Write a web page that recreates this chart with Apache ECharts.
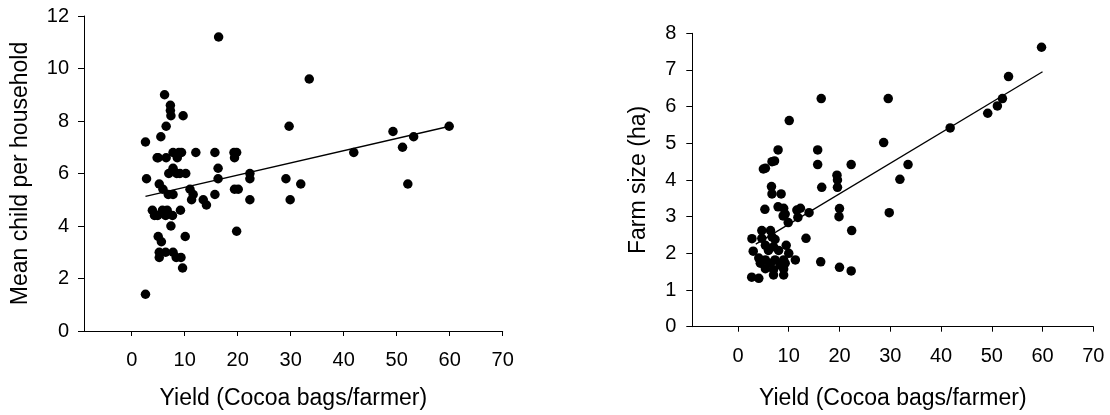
<!DOCTYPE html>
<html>
<head>
<meta charset="utf-8">
<script src="https://cdn.jsdelivr.net/npm/echarts@6/dist/echarts.min.js"></script>
<style>
html,body{margin:0;padding:0;background:#fff;}
#chart{width:1110px;height:415px;}
</style>
</head>
<body>
<div id="chart"></div>
<script>
// ---- Data ----
var xTicks = [0, 10, 20, 30, 40, 50, 60, 70];
var leftYTicksMax = 12;
var rightYTicksMax = 8;

var xTitle = 'Yield (Cocoa bags/farmer)';
var leftYTitle = 'Mean child per household';
var rightYTitle = 'Farm size (ha)';

// Left panel: yield vs mean child per household
var leftYield = [
  2.6, 2.6, 2.8, 3.9, 4.3, 4.9, 5.5, 5.0, 6.5, 5.2,
  5.9, 6.9, 7.8, 5.8, 6.7, 6.4, 7.7, 7.4, 9.2, 5.0,
  5.6, 5.2, 5.2, 6.4, 7.8, 8.4, 9.3, 9.6, 10.1, 6.2,
  7.3, 7.3, 7.4, 9.7, 6.5, 7.8, 8.9, 9.4, 8.6, 7.8,
  7.0, 9.1, 10.2, 12.1, 11.0, 11.6, 11.3, 13.5, 14.1, 15.7,
  15.7, 16.3, 16.3, 16.4, 19.3, 19.8, 19.4, 19.4, 20.1, 19.8,
  22.3, 22.3, 22.3, 29.7, 29.1, 29.9, 31.9, 33.5, 41.9, 49.3,
  51.1, 52.1, 53.2, 59.9, 4.8, 8.5
];
var leftChild = [
  1.4, 7.2, 5.8, 4.6, 4.4, 4.4, 7.4, 6.6, 6.6, 5.6,
  5.4, 5.2, 5.2, 4.6, 4.6, 4.4, 4.4, 4.0, 4.6, 3.6,
  3.4, 3.0, 2.8, 3.0, 3.0, 2.8, 2.8, 2.4, 3.6, 9.0,
  8.6, 8.4, 8.2, 8.2, 7.8, 6.8, 6.8, 6.8, 6.6, 6.2,
  6.0, 6.0, 6.0, 6.8, 5.4, 5.2, 5.0, 5.0, 4.8, 5.2,
  6.8, 6.2, 5.8, 11.2, 6.8, 6.8, 6.6, 5.4, 5.4, 3.8,
  6.0, 5.8, 5.0, 7.8, 5.8, 5.0, 5.6, 9.6, 6.8, 7.6,
  7.0, 5.6, 7.4, 7.8, 6.6, 6.0
];
var leftFitX = [2.6, 60];
var leftFitY = [5.13, 7.8];

// Right panel: yield vs farm size (ha)
var rightYield = [
  2.75, 3.0, 2.7, 4.1, 5.3, 5.4, 5.0, 6.7, 7.2, 7.9,
  10.1, 6.6, 6.7, 8.5, 7.9, 9.0, 9.3, 8.9, 11.6, 12.3,
  11.8, 14.0, 9.9, 4.7, 6.4, 4.7, 6.7, 7.3, 5.4, 6.0,
  7.0, 8.0, 9.5, 10.0, 4.1, 4.4, 5.4, 6.4, 7.3, 8.3,
  9.0, 9.3, 11.3, 5.4, 7.0, 9.0, 7.0, 9.0, 13.4, 15.7,
  15.7, 16.4, 16.5, 16.3, 19.5, 19.6, 19.6, 20.0, 19.9, 20.0,
  22.3, 22.4, 22.3, 28.7, 29.6, 29.8, 31.9, 33.5, 41.8, 49.2,
  51.1, 52.1, 53.3, 59.8
];
var rightSize = [
  2.4, 2.06, 1.35, 1.32, 3.2, 4.32, 4.3, 4.5, 4.52, 4.82,
  5.62, 3.82, 3.62, 3.62, 3.27, 3.23, 3.07, 3.02, 3.18, 3.23,
  2.98, 3.11, 2.84, 2.62, 2.62, 2.41, 2.45, 2.38, 2.22, 2.08,
  2.18, 2.08, 2.22, 2.0, 1.87, 1.73, 1.82, 1.73, 1.82, 1.68,
  1.82, 1.73, 1.82, 1.58, 1.55, 1.57, 1.41, 1.41, 2.41, 4.82,
  4.42, 6.22, 3.8, 1.77, 4.13, 4.0, 3.8, 3.22, 3.0, 1.62,
  4.42, 2.62, 1.52, 5.02, 6.22, 3.11, 4.02, 4.42, 5.42, 5.82,
  6.02, 6.22, 6.82, 7.62
];
var rightFitX = [3.5, 60];
var rightFitY = [2.25, 6.95];

// ---- Build chart ----
function pairs(xs, ys) { return xs.map(function (x, i) { return [x, ys[i]]; }); }

var FONT = 'Liberation Sans, Arial, sans-serif';
var tickFont = 20;
var titleFont = 23;

function makeX(gridIndex, nameGap, margin) {
  return {
    type: 'value', gridIndex: gridIndex, min: -9, max: 70,
    name: xTitle, nameLocation: 'middle', nameGap: nameGap,
    nameTextStyle: { fontFamily: FONT, fontSize: titleFont, color: '#000' },
    axisLine: { onZero: false, lineStyle: { color: '#000', width: 1 } },
    axisTick: { show: true, length: 5, customValues: xTicks, lineStyle: { color: '#000' } },
    axisLabel: { customValues: xTicks, margin: margin, fontFamily: FONT, fontSize: tickFont, color: '#000' },
    splitLine: { show: false }
  };
}
function makeY(gridIndex, max, interval, name, nameGap, margin) {
  return {
    type: 'value', gridIndex: gridIndex, min: 0, max: max, interval: interval,
    name: name, nameLocation: 'middle', nameGap: nameGap,
    nameTextStyle: { fontFamily: FONT, fontSize: titleFont, color: '#000' },
    axisLine: { show: true, onZero: false, lineStyle: { color: '#000', width: 1 } },
    axisTick: { show: true, length: 6, lineStyle: { color: '#000' } },
    axisLabel: { margin: margin, fontFamily: FONT, fontSize: tickFont, color: '#000' },
    splitLine: { show: false }
  };
}

var chart = echarts.init(document.getElementById('chart'), null, { renderer: 'canvas' });
chart.setOption({
  animation: false,
  backgroundColor: '#fff',
  grid: [
    { left: 84, top: 16, width: 418.7, height: 315.7, containLabel: false },
    { left: 692.3, top: 33.3, width: 401, height: 293.4, containLabel: false }
  ],
  xAxis: [makeX(0, 56, 19), makeX(1, 60, 20)],
  yAxis: [
    makeY(0, leftYTicksMax, 2, leftYTitle, 52, 15),
    makeY(1, rightYTicksMax, 1, rightYTitle, 42, 16)
  ],
  series: [
    { type: 'line', xAxisIndex: 0, yAxisIndex: 0, data: pairs(leftFitX, leftFitY),
      showSymbol: false, symbol: 'none', lineStyle: { color: '#000', width: 1.3 }, z: 3 },
    { type: 'scatter', xAxisIndex: 0, yAxisIndex: 0, data: pairs(leftYield, leftChild),
      symbol: 'circle', symbolSize: 9.5, itemStyle: { color: '#000', opacity: 1 }, z: 4 },
    { type: 'line', xAxisIndex: 1, yAxisIndex: 1, data: pairs(rightFitX, rightFitY),
      showSymbol: false, symbol: 'none', lineStyle: { color: '#000', width: 1.3 }, z: 3 },
    { type: 'scatter', xAxisIndex: 1, yAxisIndex: 1, data: pairs(rightYield, rightSize),
      symbol: 'circle', symbolSize: 9.5, itemStyle: { color: '#000', opacity: 1 }, z: 4 }
  ]
});
</script>
</body>
</html>
